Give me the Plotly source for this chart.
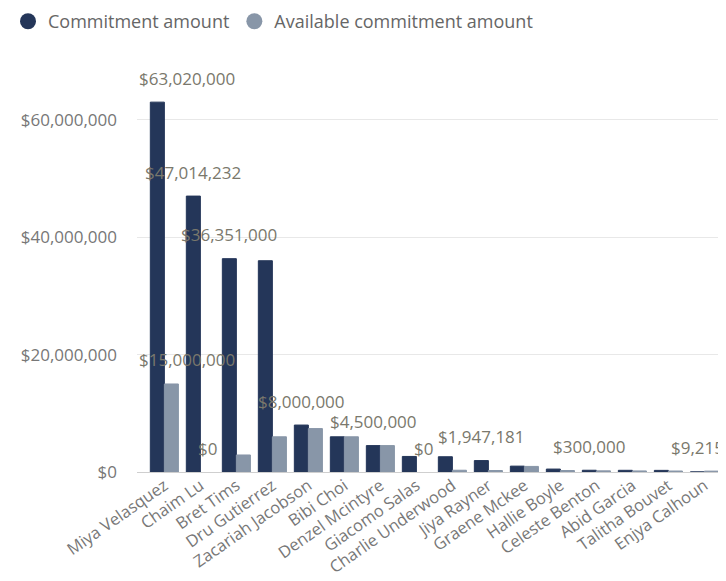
import plotly.graph_objects as go

names = ["Miya Velasquez", "Chaim Lu", "Bret Tims", "Dru Gutierrez", "Zacariah Jacobson",
         "Bibi Choi", "Denzel Mcintyre", "Giacomo Salas", "Charlie Underwood", "Jiya Rayner",
         "Graene Mckee", "Hallie Boyle", "Celeste Benton", "Abid Garcia", "Talitha Bouvet",
         "Enjya Calhoun"]
commitment = [63020000, 47014232, 36351000, 36000000, 8000000, 6000000, 4500000, 2650000,
              2600000, 1947181, 1000000, 500000, 300000, 290000, 280000, 9215]
available = [15000000, 0, 2900000, 6000000, 7400000, 6000000, 4500000, 0,
             300000, 250000, 950000, 250000, 200000, 180000, 170000, 150000]
# which bars carry a visible data label (as in the source visual)
commit_label_shown = [1, 1, 1, 0, 1, 0, 1, 0, 0, 1, 0, 0, 1, 0, 0, 1]
avail_label_shown = [1, 1, 0, 0, 0, 0, 0, 1, 0, 0, 0, 0, 0, 0, 0, 0]
y_ticks = [0, 20000000, 40000000, 60000000]

DARK = "#243659"
LIGHT = "#8896a8"
FONT = "Open Sans"

fig = go.Figure()
fig.add_trace(go.Bar(x=names, y=commitment, name="Commitment amount", marker_color=DARK,
                     marker_line_color=DARK,
                     marker_line_width=[1 if v > 0 else 0 for v in commitment],
                     showlegend=False))
fig.add_trace(go.Bar(x=names, y=available, name="Available commitment amount", marker_color=LIGHT,
                     marker_line_color=LIGHT,
                     marker_line_width=[1 if v > 0 else 0 for v in available],
                     showlegend=False))
# legend entries with circular symbols
for nm, col in [("Commitment amount", DARK), ("Available commitment amount", LIGHT)]:
    fig.add_trace(go.Scatter(x=[None], y=[None], mode="markers", name=nm,
                             marker=dict(color=col, size=16, symbol="circle")))

annotations = []
for series, shown, shift in [(commitment, commit_label_shown, -7), (available, avail_label_shown, 7)]:
    for i, (v, s) in enumerate(zip(series, shown)):
        if not s:
            continue
        a = dict(y=v, yref="y", yshift=24, yanchor="middle", text=f"${v:,.0f}",
                 showarrow=False, font=dict(family=FONT, size=17, color="#7a786c"))
        if i == 0:
            a.update(x=0, xref="paper", xanchor="left")
        else:
            a.update(x=names[i], xref="x", xshift=shift, xanchor="center")
        annotations.append(a)

fig.update_layout(
    width=718, height=573,
    margin=dict(l=129, r=0, t=52, b=109, autoexpand=False),
    paper_bgcolor="white", plot_bgcolor="white",
    barmode="group", bargap=0.22, bargroupgap=0,
    font=dict(family=FONT, color="#777777"),
    legend=dict(orientation="h", x=-129 / 589, xanchor="left", y=1.0934, yanchor="middle",
                font=dict(family=FONT, size=18, color="#666666"),
                itemclick=False, tracegroupgap=0, bgcolor="rgba(0,0,0,0)"),
    annotations=annotations,
    xaxis=dict(range=[-0.76, 15.6], tickangle=-35, tickfont=dict(family=FONT, size=16.5, color="#777777"),
               showgrid=False, showline=False, ticks="", zeroline=False, automargin=False),
    yaxis=dict(range=[0, 70200000], tickvals=y_ticks, tickformat="$,.0f",
               tickfont=dict(family=FONT, size=17, color="#777777"),
               showgrid=True, gridcolor="#e8e8e8", gridwidth=1,
               zeroline=True, zerolinecolor="#cfcfcf", zerolinewidth=1, automargin=False,
               ticklabelstandoff=19, showline=False, ticks=""),
)

fig.write_html("out.html")
